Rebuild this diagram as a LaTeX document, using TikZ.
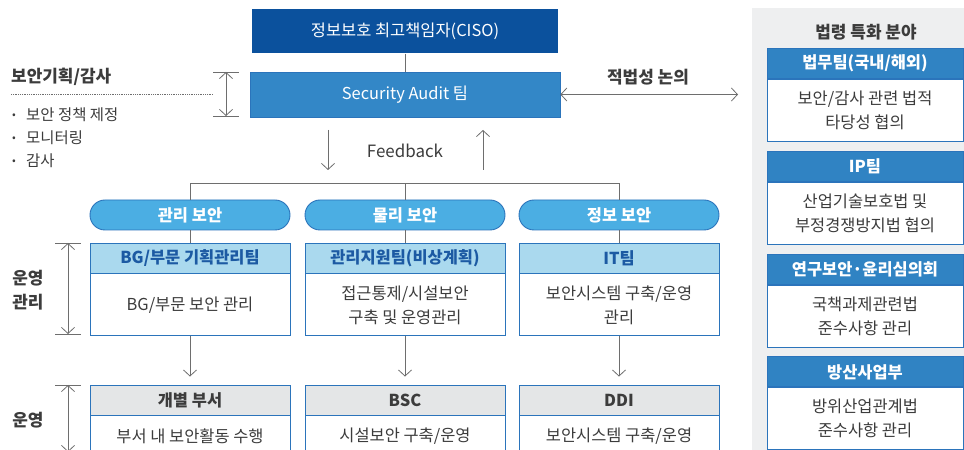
\documentclass[tikz,border=0pt]{standalone}
\usepackage{fontspec}
\setmainfont{Noto Sans CJK KR}
\usetikzlibrary{arrows.meta,positioning}
\definecolor{cisoblue}{HTML}{0B519D}
\definecolor{auditblue}{HTML}{3387C7}
\definecolor{pillblue}{HTML}{4BAEE3}
\definecolor{edgeblue}{HTML}{2B74BB}
\definecolor{hdrblue}{HTML}{AAD9EE}
\definecolor{hdrtext}{HTML}{1C5AA3}
\definecolor{lawblue}{HTML}{3083C3}
\definecolor{hdrgrey}{HTML}{E4E6E7}
\definecolor{panelgrey}{HTML}{EEEFF0}
\definecolor{txtgrey}{HTML}{3C3C3C}
\definecolor{lngrey}{HTML}{6E6E6E}
\newcommand{\dotmark}{\makebox[14bp][l]{\raisebox{2.5bp}{\fontsize{11}{11}\selectfont •}}}

\begin{document}
\begin{tikzpicture}[x=1bp,y=-1bp,font=\fontsize{16.5}{20}\selectfont,
  topbox/.style={minimum height=44bp,inner sep=0pt,text=white},
  pill/.style={draw=edgeblue,line width=0.9bp,fill=pillblue,rounded corners=15bp,minimum width=200bp,minimum height=30bp,inner sep=0pt,text=white,font=\fontsize{16.5}{20}\selectfont\bfseries},
  hdr/.style={draw=edgeblue,line width=0.9bp,minimum width=200bp,minimum height=30bp,inner sep=0pt,font=\fontsize{16.5}{20}\selectfont\bfseries},
  bodybox/.style={draw=edgeblue,line width=0.9bp,fill=white,minimum width=200bp,minimum height=62bp,inner sep=0pt,align=center,text=txtgrey,font=\fontsize{16.5}{24}\selectfont},
  lawhdr/.style={hdr,fill=lawblue,text=white,minimum width=196bp},
  lawbody/.style={bodybox,minimum width=196bp},
  link/.style={draw=lngrey,line width=0.8bp},
  arr/.style={link,-{Straight Barb[length=6bp,width=13bp]}},
  darr/.style={link,{Straight Barb[length=6bp,width=13bp]}-{Straight Barb[length=6bp,width=13bp]}},
  side/.style={text=txtgrey,font=\fontsize{17}{24}\selectfont\bfseries,align=center}]
  \clip (0,0) rectangle (964,450);
  \fill[white] (0,0) rectangle (964,450);
  \fill[panelgrey] (752,8) rectangle (964,460);

  \node[topbox,fill=cisoblue,minimum width=306bp] (ciso) at (405,31.5) {정보보호 최고책임자(CISO)};
  \node[topbox,fill=auditblue,draw=edgeblue,line width=0.6bp,minimum width=310bp,minimum height=45bp] (audit) at (405,94.5) {Security Audit 팀};
  \draw[link] (ciso) -- (audit);

  \node[side,anchor=west,inner sep=0pt] (plan) at (11,77) {보안기획/감사};
  \draw[link,densely dotted,line width=0.6bp] (11,94) -- (213,94);
  \node[anchor=north west,align=left,text=txtgrey,inner sep=0pt,font=\fontsize{15.5}{23}\selectfont] (tasks) at (12,108)
    {\dotmark 보안 정책 제정\\\dotmark 모니터링\\\dotmark 감사};
  \coordinate (b1t) at (226,72);
  \coordinate (b1b) at (226,116);
  \draw[link] (213,72) -- (239,72) (213,116) -- (239,116);
  \draw[darr] (b1t) -- (b1b);

  \node[side] (legal) at (648,77) {적법성 논의};
  \coordinate (legalend) at (738,94.5);
  \draw[darr] (audit.east) -- (legalend);

  \coordinate (fbtop) at (328,130);
  \coordinate (fbbot) at (328,170);
  \coordinate (uptop) at (483,130);
  \coordinate (upbot) at (483,170);
  \draw[arr] (fbtop) -- (fbbot);
  \draw[arr] (upbot) -- (uptop);
  \node[text=txtgrey,font=\fontsize{17}{20}\selectfont] (fb) at (405,151) {Feedback};

  \node[pill] (p1) at (190,215) {관리 보안};
  \node[pill] (p2) at (405,215) {물리 보안};
  \node[pill] (p3) at (619,215) {정보 보안};
  \draw[link] (p1.north) -- ++(0,-16) -| (p3.north);
  \draw[link] (p2.north) -- ++(0,-16);

  \node[hdr,fill=hdrblue,text=hdrtext] (h1) at (190,258) {BG/부문 기획관리팀};
  \node[hdr,fill=hdrblue,text=hdrtext] (h2) at (405,258) {관리지원팀(비상계획)};
  \node[hdr,fill=hdrblue,text=hdrtext] (h3) at (619,258) {IT팀};
  \node[bodybox,below=0pt of h1] (m1) {BG/부문 보안 관리};
  \node[bodybox,below=0pt of h2] (m2) {접근통제/시설보안\\구축 및 운영관리};
  \node[bodybox,below=0pt of h3] (m3) {보안시스템 구축/운영\\관리};
  \foreach \i in {1,2,3} \draw[link] (p\i) -- (h\i);

  \node[hdr,fill=hdrgrey,text=txtgrey] (g1) at (190,400) {개별 부서};
  \node[hdr,fill=hdrgrey,text=txtgrey] (g2) at (405,400) {BSC};
  \node[hdr,fill=hdrgrey,text=txtgrey] (g3) at (619,400) {DDI};
  \node[bodybox,below=0pt of g1,minimum height=40bp] (o1) {부서 내 보안활동 수행};
  \node[bodybox,below=0pt of g2,minimum height=40bp] (o2) {시설보안 구축/운영};
  \node[bodybox,below=0pt of g3,minimum height=40bp] (o3) {보안시스템 구축/운영};
  \foreach \i in {1,2,3} \draw[arr,shorten >=8bp] (m\i) -- (g\i);

  \node[side] (mgmt) at (28,290) {운영\\관리};
  \coordinate (b2t) at (68,243);
  \coordinate (b2b) at (68,334);
  \draw[link] (55,243) -- (81,243) (55,334) -- (81,334);
  \draw[darr] (b2t) -- (b2b);
  \node[side] (oper) at (28,420) {운영};
  \coordinate (b3t) at (68,385);
  \coordinate (b3b) at (68,452);
  \draw[link] (55,385) -- (81,385);
  \draw[darr] (b3t) -- (b3b);

  \node[side] (law) at (866,32) {법령 특화 분야};
  \node[lawhdr] (l1) at (865,63.5) {법무팀(국내/해외)};
  \node[lawbody,below=0pt of l1] (lb1) {보안/감사 관련 법적\\타당성 협의};
  \node[lawhdr,below=9bp of lb1] (l2) {IP팀};
  \node[lawbody,below=0pt of l2] (lb2) {산업기술보호법 및\\부정경쟁방지법 협의};
  \node[lawhdr,below=9bp of lb2] (l3) {연구보안·윤리심의회};
  \node[lawbody,below=0pt of l3] (lb3) {국책과제관련법\\준수사항 관리};
  \node[lawhdr,below=9bp of lb3] (l4) {방산사업부};
  \node[lawbody,below=0pt of l4] (lb4) {방위산업관계법\\준수사항 관리};
\end{tikzpicture}
\end{document}
